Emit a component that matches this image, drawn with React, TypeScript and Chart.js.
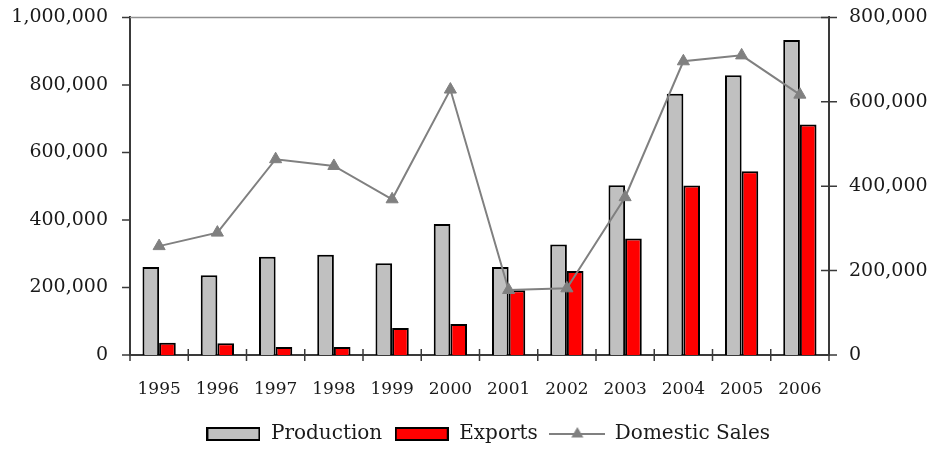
import { useEffect, useRef } from 'react';
import { Chart, registerables } from 'chart.js';

Chart.register(...registerables);

const years = ['1995', '1996', '1997', '1998', '1999', '2000', '2001', '2002', '2003', '2004', '2005', '2006'];
const production = [261000, 236000, 291000, 297000, 272000, 388000, 261000, 327000, 503000, 774000, 829000, 933000];
const exportsVol = [36000, 35000, 24000, 24000, 80000, 92000, 192000, 249000, 345000, 502000, 544000, 683000];
const domesticSales = [258000, 290000, 464000, 448000, 369000, 629000, 154000, 158000, 374000, 696000, 710000, 617000];

const leftMax = 1000000;
const rightMax = 800000;
const tickStep = 200000;

const FONT = "'DejaVu Serif', serif";
const TEXT = '#1a1a1a';
const AXIS = '#3a3a3a';
const GREY_FILL = '#c0c0c0';
const RED_FILL = '#ff0000';
const LINE_GREY = '#808080';

const fmt = (v: number) => Number(v).toLocaleString('en-US');

function boxIcon(fill: string): HTMLCanvasElement {
  const c = document.createElement('canvas');
  c.width = 54;
  c.height = 14;
  const g = c.getContext('2d')!;
  g.fillStyle = fill;
  g.fillRect(1, 1, 52, 12);
  g.strokeStyle = '#000';
  g.lineWidth = 2;
  g.strokeRect(1, 1, 52, 12);
  return c;
}

function lineIcon(): HTMLCanvasElement {
  const c = document.createElement('canvas');
  c.width = 56;
  c.height = 14;
  const g = c.getContext('2d')!;
  g.strokeStyle = LINE_GREY;
  g.lineWidth = 2;
  g.beginPath();
  g.moveTo(0, 7);
  g.lineTo(56, 7);
  g.stroke();
  const r = 7;
  g.fillStyle = LINE_GREY;
  g.beginPath();
  g.moveTo(28, 7 - r);
  g.lineTo(28 + r * Math.sin((2 * Math.PI) / 3), 7 + r / 2);
  g.lineTo(28 - r * Math.sin((2 * Math.PI) / 3), 7 + r / 2);
  g.closePath();
  g.fill();
  return c;
}

// Nudge the legend row a little to the right of the canvas centre
const legendShift = {
  id: 'legendShift',
  afterLayout(chart: any) {
    if (chart.legend) {
      chart.legend.left += 17;
      chart.legend.right += 17;
    }
  },
};

// Tick marks and the light top frame line
const frameMarks = {
  id: 'frameMarks',
  afterDatasetsDraw(chart: any) {
    const { ctx, chartArea } = chart;
    const { left, right, top, bottom } = chartArea;
    const y = chart.scales.y;
    const y1 = chart.scales.y1;
    const x = chart.scales.x;
    ctx.save();
    ctx.strokeStyle = '#909090';
    ctx.lineWidth = 1.5;
    ctx.beginPath();
    ctx.moveTo(left, top);
    ctx.lineTo(right, top);
    ctx.stroke();

    ctx.strokeStyle = AXIS;
    ctx.lineWidth = 1.5;
    ctx.beginPath();
    y.ticks.forEach((_t: any, i: number) => {
      const py = y.getPixelForTick(i);
      ctx.moveTo(left - 8, py);
      ctx.lineTo(left, py);
    });
    y1.ticks.forEach((_t: any, i: number) => {
      const py = y1.getPixelForTick(i);
      ctx.moveTo(right - 8, py);
      ctx.lineTo(right + 8, py);
    });
    const n = years.length;
    for (let i = 0; i <= n; i++) {
      let px: number;
      if (i === 0) px = left;
      else if (i === n) px = right;
      else px = (x.getPixelForValue(i - 1) + x.getPixelForValue(i)) / 2;
      ctx.moveTo(px, bottom - 6);
      ctx.lineTo(px, bottom + 6);
    }
    ctx.stroke();
    ctx.restore();
  },
};

export default function App() {
  const canvasRef = useRef<HTMLCanvasElement | null>(null);

  useEffect(() => {
    if (!canvasRef.current) return;
    const icons = [boxIcon(GREY_FILL), boxIcon(RED_FILL), lineIcon()];

    const chart = new Chart(canvasRef.current, {
      type: 'bar',
      data: {
        labels: years,
        datasets: [
          {
            type: 'bar',
            label: 'Production',
            data: production,
            backgroundColor: GREY_FILL,
            borderColor: '#000',
            borderWidth: 2,
            yAxisID: 'y',
            order: 1,
            categoryPercentage: 2 / 3.5,
            barPercentage: 1,
          },
          {
            type: 'bar',
            label: 'Exports',
            data: exportsVol,
            backgroundColor: RED_FILL,
            borderColor: '#000',
            borderWidth: 2,
            yAxisID: 'y',
            order: 1,
            categoryPercentage: 2 / 3.5,
            barPercentage: 1,
          },
          {
            type: 'line',
            label: 'Domestic Sales',
            data: domesticSales,
            borderColor: LINE_GREY,
            backgroundColor: LINE_GREY,
            borderWidth: 2,
            pointStyle: 'triangle',
            pointRadius: 7,
            pointBackgroundColor: LINE_GREY,
            pointBorderColor: LINE_GREY,
            pointBorderWidth: 1,
            tension: 0,
            yAxisID: 'y1',
            order: 0,
          } as any,
        ],
      },
      options: {
        animation: false,
        responsive: true,
        maintainAspectRatio: false,
        layout: { padding: { left: 0, right: 0, top: 0, bottom: 0 } },
        plugins: {
          tooltip: { enabled: false },
          legend: {
            position: 'bottom',
            labels: {
              font: { family: FONT, size: 20 },
              color: TEXT,
              usePointStyle: true,
              pointStyleWidth: 55,
              padding: 12,
              sort: (a: any, b: any) => a.datasetIndex - b.datasetIndex,
              generateLabels: (ch: any) => {
                const items = Chart.defaults.plugins.legend.labels.generateLabels(ch);
                return items.map((it: any) => ({ ...it, pointStyle: icons[it.datasetIndex], fontColor: TEXT }));
              },
            },
          },
        },
        scales: {
          x: {
            offset: true,
            grid: { display: false, drawTicks: false },
            border: { display: true, color: AXIS, width: 2 },
            ticks: { font: { family: FONT, size: 17 }, color: TEXT, padding: 24, maxRotation: 0, autoSkip: false },
            afterFit: (s: any) => {
              s.height = 57;
            },
          },
          y: {
            position: 'left',
            min: 0,
            max: leftMax,
            grid: { display: false, drawTicks: true, tickLength: 16 },
            border: { display: true, color: AXIS, width: 2 },
            ticks: {
              stepSize: tickStep,
              font: { family: FONT, size: 19 },
              color: TEXT,
              padding: 6,
              callback: (v: any) => fmt(v),
            },
            afterFit: (s: any) => {
              s.width = 130;
            },
          },
          y1: {
            position: 'right',
            min: 0,
            max: rightMax,
            grid: { display: false, drawTicks: true, tickLength: 14 },
            border: { display: true, color: AXIS, width: 2 },
            ticks: {
              stepSize: tickStep,
              font: { family: FONT, size: 19 },
              color: TEXT,
              padding: 6,
              callback: (v: any) => fmt(v),
            },
            afterFit: (s: any) => {
              s.width = 113;
            },
          },
        },
      },
      plugins: [legendShift, frameMarks],
    });

    return () => chart.destroy();
  }, []);

  return (
    <div style={{ position: 'fixed', left: 0, top: 0, width: 942, height: 454, background: '#fff' }}>
      <canvas ref={canvasRef} />
    </div>
  );
}
